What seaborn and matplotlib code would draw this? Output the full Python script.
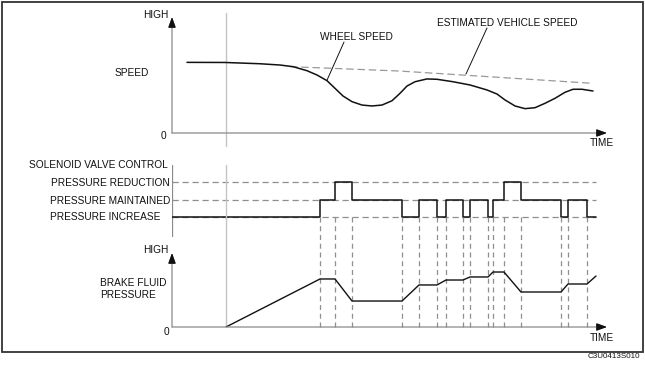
import numpy as np
import pandas as pd
import matplotlib
matplotlib.use("Agg")
import matplotlib.pyplot as plt
from matplotlib.patches import Rectangle
import seaborn as sns

sns.set_theme(style="white")
plt.rcParams['font.family'] = ['Liberation Sans', 'DejaVu Sans']

# ---- data (time in arbitrary units, 0 = left axis) ----
brake_start = 54

wheel_t = [15, 53, 88, 108, 121, 135, 145, 155, 163, 171, 180, 190, 200, 210,
           220, 228, 235, 243, 255, 265, 281, 298, 315, 325, 333, 343, 353,
           363, 373, 383, 393, 401, 410, 421]
wheel_speed = [60.9, 60.8, 59.7, 58.6, 57.2, 53.7, 50.0, 45.1, 38.5, 31.9,
               27.0, 24.1, 23.3, 24.1, 27.8, 34.2, 40.5, 44.2, 46.6, 46.3,
               44.2, 41.4, 37.1, 33.6, 28.5, 23.3, 21.0, 21.8, 25.6, 29.9,
               35.1, 37.7, 37.7, 36.2]

est_t = [118, 228, 421]
est_speed = [57.2, 53.4, 42.8]

valve_t = [0, 148, 163, 180, 230, 247, 265, 274, 291, 298, 316, 321, 332,
           349, 389, 396, 415, 424]
valve_state = [0, 1, 2, 1, 0, 1, 0, 1, 0, 1, 0, 1, 2, 1, 0, 1, 0, 0]
valve_labels = ["PRESSURE INCREASE", "PRESSURE MAINTAINED", "PRESSURE REDUCTION"]

press_t = [54, 148, 163, 180, 230, 247, 265, 274, 291, 298, 316, 321, 332,
           349, 389, 396, 415, 424]
press_val = [0, 64.9, 64.9, 35.1, 35.1, 56.8, 56.8, 63.5, 63.5, 67.6, 67.6,
             74.3, 74.3, 47.3, 47.3, 58.1, 58.1, 68.9]

W, H = 645, 371
fig = plt.figure(figsize=(W / 100, H / 100), dpi=100)


def px_axes(x0, y_top, x1, y_bot):
    return fig.add_axes([x0 / W, 1 - y_bot / H, (x1 - x0) / W, (y_bot - y_top) / H])


def ptext(x, y, s, ha="left", size=7.3):
    fig.text(x / W, 1 - y / H, s, ha=ha, va="center", fontsize=size, color="#111")


AX_COL = "#8a8a8a"
XMAX = 435

ax1 = px_axes(172, 17, 607, 133)
ax2 = px_axes(172, 165, 607, 237)
ax3 = px_axes(172, 253, 607, 327)

for ax in (ax1, ax2, ax3):
    ax.set_facecolor("none")
    for s in ax.spines.values():
        s.set_visible(False)
    ax.set_xticks([])
    ax.set_yticks([])
    ax.set_xlim(0, XMAX)

# ---- top: speed ----
ax1.set_ylim(0, 100)
arrow = dict(arrowstyle="-|>,head_length=0.5,head_width=0.18", color="#111", lw=0.9,
             shrinkA=0, shrinkB=0)
for ax in (ax1, ax3):
    ax.annotate("", xy=(1, 0), xytext=(0, 0), xycoords="axes fraction",
                arrowprops={**arrow, "color": AX_COL})
    ax.annotate("", xy=(0, 1), xytext=(0, 0), xycoords="axes fraction",
                arrowprops={**arrow, "color": AX_COL})
    ax.annotate("", xy=(1, 0), xytext=(0.985, 0), xycoords="axes fraction",
                arrowprops=arrow)
    ax.annotate("", xy=(0, 1), xytext=(0, 0.94), xycoords="axes fraction",
                arrowprops=arrow)

ax1.axvline(brake_start, ymin=-0.112, ymax=1.034, color="#c4c4c4", lw=1, clip_on=False)

sns.lineplot(x=est_t, y=est_speed, ax=ax1, color="#999999", lw=0.9,
             linestyle=(0, (6, 3)), sort=False)
sns.lineplot(x=wheel_t, y=wheel_speed, ax=ax1, color="#111", lw=1.1, sort=False)

ax1.annotate("", xy=(155, 45.5), xytext=(172, 78.4), xycoords="data",
             arrowprops=dict(arrowstyle="-", color="#111", lw=0.7, shrinkA=0, shrinkB=0))
ax1.annotate("", xy=(294, 50.9), xytext=(315, 90.5), xycoords="data",
             arrowprops=dict(arrowstyle="-", color="#111", lw=0.7, shrinkA=0, shrinkB=0))

# ---- middle: solenoid valve control ----
ax2.set_ylim(-1.126, 2.99)
ax2.axvline(0, color=AX_COL, lw=0.9)
for lvl in range(3):
    ax2.hlines(lvl, 0, valve_t[-1], color="#8f8f8f", lw=0.9, linestyles=(0, (5, 3)))
sns.lineplot(x=valve_t, y=valve_state, ax=ax2, color="#111", lw=1.1,
             drawstyle="steps-post", sort=False)

# ---- bottom: brake fluid pressure ----
ax3.set_ylim(0, 100)
ax3.axvline(brake_start, ymin=0, ymax=(327 - 165) / 74, color="#c4c4c4", lw=1, clip_on=False)
for t in valve_t[1:-1]:
    ax3.axvline(t, ymin=0, ymax=(327 - 217) / 74, color="#8f8f8f", lw=0.9,
                linestyle=(0, (4, 3)), clip_on=False)
sns.lineplot(x=press_t, y=press_val, ax=ax3, color="#111", lw=1.0, sort=False)

# ---- text ----
ptext(169, 15, "HIGH", ha="right")
ptext(115, 73, "SPEED")
ptext(163, 136, "0", ha="center")
ptext(590, 143, "TIME")
ptext(320, 37, "WHEEL SPEED")
ptext(437, 23, "ESTIMATED VEHICLE SPEED")

ptext(168, 165, "SOLENOID VALVE CONTROL", ha="right")
ptext(170, 183, valve_labels[2], ha="right")
ptext(170, 201, valve_labels[1], ha="right")
ptext(50, 217, valve_labels[0])

ptext(169, 250, "HIGH", ha="right")
ptext(100, 283, "BRAKE FLUID")
ptext(100, 295, "PRESSURE")
ptext(166, 332, "0", ha="center")
ptext(590, 338, "TIME")
ptext(640, 357, "C3U0413S010", ha="right", size=5.8)

fig.patches.append(Rectangle((1.5 / W, 1 - 352 / H), 641 / W, 350.5 / H,
                             transform=fig.transFigure, fill=False,
                             edgecolor="#333", lw=1.3))

fig.savefig("out.png", dpi=100)
